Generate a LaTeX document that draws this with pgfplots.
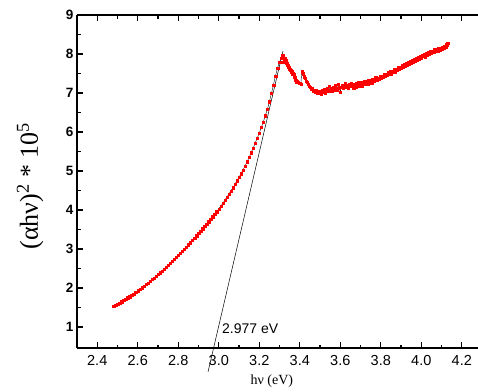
\documentclass[border=0pt]{standalone}
\usepackage{fontspec}
\setmainfont{Liberation Sans}
\newfontfamily\timesf{Liberation Serif}
\usepackage{pgfplots}
\pgfplotsset{compat=1.18}
\begin{document}
\begin{tikzpicture}
\begin{axis}[
  at={(0pt,0pt)}, anchor=south west,
  scale only axis, width=401pt, height=333pt,
  xmin=2.3, xmax=4.28, ymin=0.46, ymax=9,
  clip=false,
  axis x line=box, axis y line=left,
  axis line style={-, line width=1.4pt},
  tick align=inside,
  major tick length=6pt, minor tick length=3.5pt,
  every tick/.style={black, line width=1.2pt},
  xtick={2.4,2.6,...,4.21}, ytick={1,2,...,9},
  minor x tick num=1, minor y tick num=1,
  /pgf/number format/assume math mode=true,
  xticklabel style={font=\fontsize{14.5}{14.5}\selectfont, yshift=-4pt, /pgf/number format/.cd, fixed, fixed zerofill, precision=1},
  yticklabel style={font=\bfseries\fontsize{13.5}{13.5}\selectfont},
  xlabel={\timesf hν (eV)},
  xlabel style={at={(axis description cs:0.486,-0.1)}, anchor=center, font=\fontsize{14}{14}\selectfont},
  ylabel={\timesf (αhν)\textsuperscript{2} * 10\textsuperscript{5}},
  ylabel style={at={(axis description cs:-0.117,0.486)}, anchor=center, font=\fontsize{26}{26}\selectfont},
]
\addplot[black, line width=0.4pt, mark=square*, mark size=1.15pt, mark options={red, draw=red, line width=0.2pt}] coordinates {
(2.48,1.53) (2.49,1.56) (2.50,1.59) (2.51,1.62) (2.52,1.65) (2.53,1.68) (2.54,1.71) (2.55,1.75) (2.56,1.78) (2.57,1.82)
(2.58,1.85) (2.59,1.89) (2.60,1.93) (2.61,1.97) (2.62,2.01) (2.63,2.05) (2.64,2.09) (2.65,2.13) (2.66,2.17) (2.67,2.22)
(2.68,2.26) (2.69,2.30) (2.70,2.35) (2.71,2.39) (2.72,2.44) (2.73,2.49) (2.74,2.54) (2.75,2.59) (2.76,2.64) (2.77,2.69)
(2.78,2.74) (2.79,2.79) (2.80,2.84) (2.81,2.89) (2.82,2.95) (2.83,3.00) (2.84,3.05) (2.85,3.11) (2.86,3.16) (2.87,3.22)
(2.88,3.28) (2.89,3.34) (2.90,3.40) (2.91,3.46) (2.92,3.52) (2.93,3.58) (2.94,3.64) (2.95,3.70) (2.96,3.76) (2.97,3.83)
(2.98,3.89) (2.99,3.96) (3.00,4.03) (3.01,4.10) (3.02,4.17) (3.03,4.25) (3.04,4.33) (3.05,4.41) (3.06,4.49) (3.07,4.57)
(3.08,4.66) (3.09,4.75) (3.10,4.84) (3.11,4.93) (3.12,5.03) (3.13,5.13) (3.14,5.24) (3.15,5.35) (3.16,5.47) (3.17,5.59)
(3.18,5.72) (3.19,5.85) (3.20,5.97) (3.21,6.12) (3.22,6.26) (3.23,6.42) (3.24,6.58) (3.25,6.78) (3.26,6.99) (3.27,7.21)
(3.28,7.44) (3.29,7.64) (3.30,7.80) (3.31,7.90) (3.315,7.97)
(3.320,7.80) (3.325,7.88) (3.330,7.85) (3.335,7.76) (3.340,7.72) (3.345,7.66) (3.350,7.62) (3.355,7.58) (3.360,7.55) (3.365,7.50)
(3.370,7.48) (3.375,7.40) (3.380,7.33) (3.385,7.29) (3.390,7.28) (3.395,7.26) (3.400,7.25) (3.405,7.22) (3.410,7.55) (3.415,7.50)
(3.420,7.42) (3.425,7.38) (3.430,7.30) (3.435,7.28) (3.440,7.22) (3.445,7.18)
(3.450,7.15) (3.455,7.10) (3.460,7.12) (3.465,7.05) (3.470,7.08) (3.475,7.02) (3.480,7.06) (3.485,6.99) (3.490,7.04) (3.495,7.00)
(3.500,7.05) (3.505,6.98) (3.510,7.08) (3.515,7.03) (3.520,7.10) (3.525,7.01) (3.530,7.07) (3.535,7.12) (3.540,7.04) (3.545,7.18)
(3.550,7.06) (3.555,7.11) (3.560,7.05) (3.565,7.14) (3.570,7.09) (3.575,7.20) (3.580,7.12) (3.585,7.08) (3.590,7.22) (3.595,7.14)
(3.600,7.03) (3.605,7.16) (3.610,7.19) (3.615,7.12) (3.620,7.17) (3.625,7.24) (3.630,7.15) (3.635,7.20) (3.640,7.13) (3.645,7.22)
(3.650,7.17) (3.655,7.25) (3.660,7.18) (3.665,7.14) (3.670,7.22) (3.675,7.16) (3.680,7.24) (3.685,7.19) (3.690,7.27) (3.695,7.20)
(3.700,7.25) (3.705,7.18) (3.710,7.28) (3.715,7.22) (3.720,7.30) (3.725,7.24) (3.730,7.28) (3.735,7.22) (3.740,7.33) (3.745,7.26)
(3.750,7.31) (3.755,7.27) (3.760,7.36) (3.765,7.30) (3.770,7.35) (3.775,7.40) (3.780,7.33) (3.785,7.39) (3.790,7.36) (3.795,7.44)
(3.800,7.38) (3.805,7.43) (3.810,7.40) (3.815,7.48) (3.820,7.43) (3.825,7.47) (3.830,7.45) (3.835,7.53) (3.840,7.48) (3.845,7.55)
(3.850,7.50) (3.855,7.56) (3.860,7.53) (3.865,7.60) (3.870,7.55) (3.875,7.62) (3.880,7.58) (3.885,7.65) (3.890,7.61) (3.895,7.66)
(3.900,7.63) (3.905,7.70) (3.910,7.66) (3.915,7.73) (3.920,7.70) (3.925,7.76) (3.930,7.72) (3.935,7.78) (3.940,7.75) (3.945,7.81)
(3.950,7.78) (3.955,7.84) (3.960,7.80) (3.965,7.86) (3.970,7.83) (3.975,7.90) (3.980,7.86) (3.985,7.92) (3.990,7.88) (3.995,7.94)
(4.000,7.91) (4.005,7.97) (4.010,7.95) (4.015,7.99) (4.020,7.93) (4.025,8.02) (4.030,7.98) (4.035,8.04) (4.040,8.00) (4.045,8.06)
(4.050,8.03) (4.055,8.08) (4.060,8.04) (4.065,8.11) (4.070,8.07) (4.075,8.12) (4.080,8.09) (4.085,8.14) (4.090,8.11) (4.095,8.16)
(4.100,8.13) (4.105,8.18) (4.110,8.16) (4.115,8.21) (4.120,8.19) (4.125,8.24) (4.130,8.28)
};
\addplot[black, line width=0.5pt] coordinates {(2.947,-0.15) (3.317,8.08)};
\node[anchor=base west, inner sep=0pt, font=\fontsize{14}{14}\selectfont] at (axis cs:3.016,0.82) {2.977 eV};
\end{axis}
\pgfresetboundingbox
\path[use as bounding box] (-77pt,-43pt) rectangle (401pt,348pt);
\end{tikzpicture}
\end{document}
